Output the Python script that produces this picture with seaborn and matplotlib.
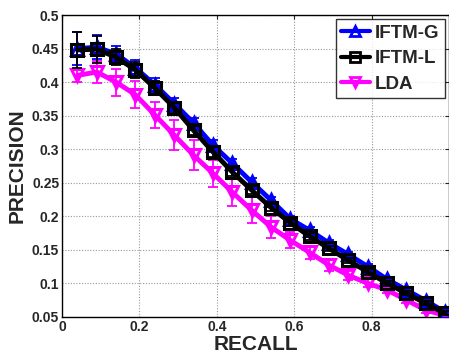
import numpy as np
import pandas as pd
import matplotlib
matplotlib.use("Agg")
import matplotlib.pyplot as plt
import seaborn as sns
from matplotlib.lines import Line2D

recall = [0.04, 0.09, 0.14, 0.19, 0.24, 0.29, 0.34, 0.39, 0.44, 0.49,
          0.54, 0.59, 0.64, 0.69, 0.74, 0.79, 0.84, 0.89, 0.94, 0.99]
iftm_g = [0.450, 0.452, 0.442, 0.421, 0.396, 0.368, 0.339, 0.306, 0.279, 0.251,
          0.224, 0.196, 0.179, 0.160, 0.143, 0.125, 0.106, 0.090, 0.074, 0.057]
iftm_l = [0.448, 0.449, 0.437, 0.418, 0.391, 0.362, 0.328, 0.296, 0.266, 0.239,
          0.213, 0.190, 0.170, 0.152, 0.134, 0.117, 0.100, 0.085, 0.070, 0.055]
lda = [0.410, 0.415, 0.400, 0.381, 0.351, 0.321, 0.291, 0.264, 0.236, 0.209,
       0.184, 0.164, 0.146, 0.127, 0.112, 0.100, 0.090, 0.075, 0.060, 0.052]
err_g = [0.025, 0.018, 0.012, 0.012, 0.010, 0.008, 0.007, 0.007, 0.006, 0.006,
         0.005, 0.005, 0.005, 0.004, 0.004, 0.004, 0.004, 0.003, 0.003, 0.003]
err_l = [0.027, 0.020, 0.012, 0.012, 0.010, 0.008, 0.007, 0.007, 0.006, 0.006,
         0.005, 0.005, 0.005, 0.004, 0.004, 0.004, 0.004, 0.003, 0.003, 0.003]
err_lda = [0.010, 0.017, 0.020, 0.020, 0.020, 0.022, 0.022, 0.020, 0.020, 0.019,
           0.016, 0.012, 0.010, 0.008, 0.007, 0.006, 0.005, 0.005, 0.004, 0.004]
series_names = ["IFTM-G", "IFTM-L", "LDA"]
yticks = [0.05, 0.1, 0.15, 0.2, 0.25, 0.3, 0.35, 0.4, 0.45, 0.5]
ytick_labels = ["0.05", "0.1", "0.15", "0.2", "0.25", "0.3", "0.35", "0.4", "0.45", "0.5"]
xticks = [0, 0.2, 0.4, 0.6, 0.8]
xtick_labels = ["0", "0.2", "0.4", "0.6", "0.8"]

sns.set_style("white")
plt.rcParams['font.family'] = ['Liberation Sans', 'DejaVu Sans']

df = pd.DataFrame({
    "recall": recall * 3,
    "precision": iftm_g + iftm_l + lda,
    "method": [series_names[0]] * 20 + [series_names[1]] * 20 + [series_names[2]] * 20,
})
errs = {"IFTM-G": err_g, "IFTM-L": err_l, "LDA": err_lda}
colors = {"IFTM-G": "#0000ff", "IFTM-L": "#000000", "LDA": "#ff00ff"}
markers = {"IFTM-G": "^", "IFTM-L": "s", "LDA": "v"}

fig = plt.figure(figsize=(4.49, 3.58), dpi=100)
ax = fig.add_axes([0.138, 0.115, 0.862, 0.843])

for name, z in [("LDA", 2), ("IFTM-G", 3), ("IFTM-L", 4)]:
    sub = df[df["method"] == name]
    ax.errorbar(sub["recall"], sub["precision"], yerr=errs[name], fmt="none",
                ecolor=colors[name], elinewidth=1.3, capsize=3.5, capthick=1.3, zorder=z)
    sns.lineplot(data=sub, x="recall", y="precision", ax=ax, color=colors[name],
                 marker=markers[name], markersize=9, markerfacecolor="none",
                 markeredgecolor=colors[name], markeredgewidth=2.2, linewidth=3.5,
                 label=name, zorder=z, legend=False)

ax.set_xlim(0, 1)
ax.set_ylim(0.05, 0.5)
ax.set_xticks(xticks)
ax.set_xticklabels(xtick_labels, fontsize=10, fontweight="bold")
ax.set_yticks(yticks)
ax.set_yticklabels(ytick_labels, fontsize=10, fontweight="bold")
ax.grid(True, linestyle=(0, (1, 1.5)), color="#999999", linewidth=0.8)
ax.tick_params(direction="in", length=3, width=0.8, top=True, right=True, pad=2)
for s in ax.spines.values():
    s.set_color("black")
    s.set_linewidth(1.0)
ax.set_xlabel("RECALL", fontsize=15, fontweight="bold", labelpad=1)
ax.set_ylabel("PRECISION", fontsize=15, fontweight="bold", labelpad=4)

handles = [Line2D([0], [0], color=colors[n], marker=markers[n], markersize=7,
                  markerfacecolor="none", markeredgewidth=2, linewidth=3) for n in series_names]
leg = ax.legend(handles, series_names, loc="upper right",
                prop={"weight": "bold", "size": 13.5}, frameon=True, fancybox=False,
                edgecolor="black", handlelength=1.5, handletextpad=0.3,
                borderaxespad=0.2, borderpad=0.3, labelspacing=0.45)
leg.get_frame().set_linewidth(1.0)

fig.savefig("out.png", dpi=100)
